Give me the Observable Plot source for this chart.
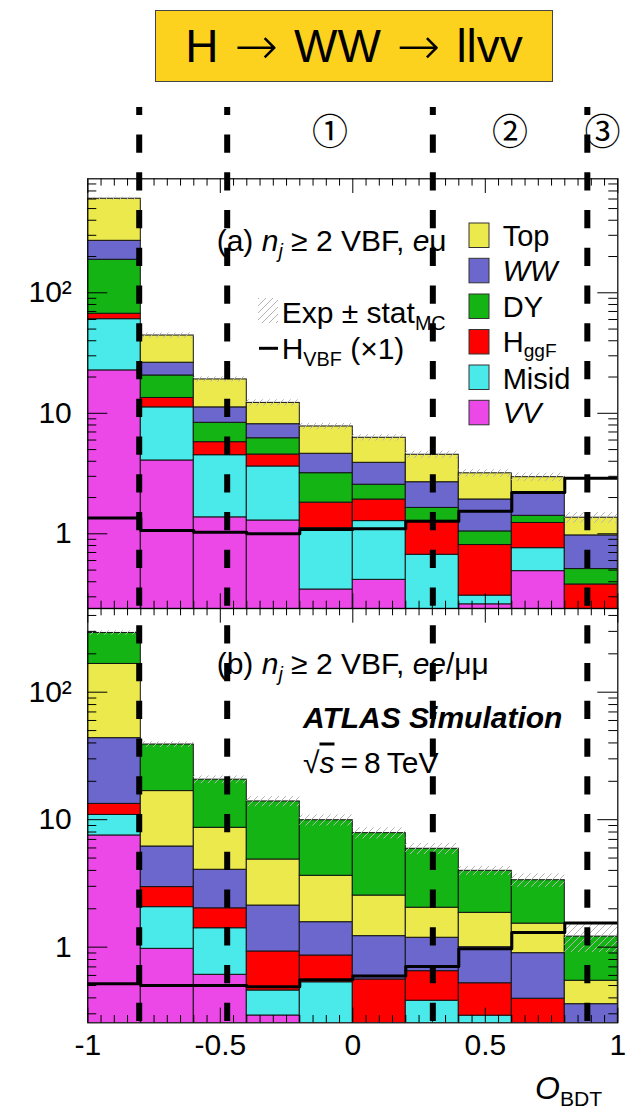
<!DOCTYPE html>
<html>
<head>
<meta charset="utf-8">
<script src="https://cdn.jsdelivr.net/npm/d3@7"></script>
<script src="https://cdn.jsdelivr.net/npm/@observablehq/plot@0.6"></script>
<style>
  body { margin: 0; background: #fff; }
  #wrap { position: relative; width: 637px; height: 1111px; overflow: hidden;
          font-family: "Liberation Sans", Arial, Helvetica, sans-serif; }
  #title { position: absolute; left: 155px; top: 10px; width: 398px; height: 72px;
           box-sizing: border-box; background: #FDD21F; border: 1px solid #444;
           display: flex; align-items: center; justify-content: center;
           font-size: 46px; color: #000; white-space: nowrap; }
  #title .arr { font-family: "DejaVu Sans", sans-serif; font-size: 52px; font-weight: 200;
                margin: 0 16px; }
</style>
</head>
<body>
<div id="wrap"><div id="title">H<span class="arr">→</span>WW<span class="arr">→</span>llvv</div></div>
<script>
const FONT = '"Liberation Sans", Arial, Helvetica, sans-serif';

// BDT output binning and region boundaries
const binEdges = [-1, -0.8, -0.6, -0.4, -0.2, 0, 0.2, 0.4, 0.6, 0.8, 1];
const cuts = [-0.806, -0.474, 0.302, 0.885];
const regionLabels = ["①", "②", "③"];
const xTickLabels = [-1, -0.5, 0, 0.5, 1];

// (a) e-mu channel, expected events per bin
const emuVV    = [22.7, 4.06, 1.37, 1.29, 0.345, 0.415, 0.15, 0.26, 0.49, 0.05];
const emuMisid = [37.7, 7.14, 3.12, 2.33, 0.77, 0.86, 0.52, 0.047, 0.27, 0.10];
const emuHggF  = [6.6, 2.2, 1.27, 0.93, 0.70, 0.65, 0.61, 0.50, 0.47, 0.23];
const emuDY    = [121, 7.2, 2.58, 1.66, 1.37, 0.63, 0.36, 0.24, 0.18, 0.13];
const emuWW    = [82, 5.7, 2.86, 1.91, 1.43, 1.33, 1.04, 0.88, 0.76, 0.46];
const emuTop   = [333, 17.9, 7.9, 4.08, 3.16, 2.38, 1.85, 1.25, 0.78, 0.39];
const emuHVBF  = [1.35, 1.065, 1.03, 1.0, 1.085, 1.1, 1.27, 1.54, 2.2, 2.89];
const emuStatMC = [0.03, 0.05, 0.05, 0.06, 0.06, 0.06, 0.07, 0.07, 0.08, 0.10];

// (b) ee/mumu channel, expected events per bin
const sfVV    = [7.52, 0.97, 0.607, 0.291, 0.20, 0.08, 0.10, 0.10, 0.05, 0.02];
const sfMisid = [3.38, 1.09, 0.80, 0.166, 0.33, 0.10, 0.28, 0.19, 0.10, 0.03];
const sfHggF  = [2.4, 0.90, 0.61, 0.468, 0.33, 0.378, 0.268, 0.231, 0.244, 0.10];
const sfWW    = [30.3, 3.2, 2.03, 1.195, 0.71, 0.662, 0.537, 0.478, 0.503, 0.207];
const sfTop   = [123, 10.6, 4.59, 2.75, 2.06, 1.32, 0.855, 0.86, 0.633, 0.188];
const sfDY    = [125, 22.1, 11.96, 9.03, 6.27, 5.30, 3.87, 2.11, 1.82, 0.665];
const sfHVBF  = [0.516, 0.50, 0.50, 0.49, 0.555, 0.593, 0.706, 0.97, 1.30, 1.55];
const sfStatMC = [0.04, 0.05, 0.07, 0.09, 0.10, 0.10, 0.10, 0.08, 0.12, 0.25];

const processColor = {
  Top: "#EBE94C", WW: "#6B67CD", DY: "#15B415",
  HggF: "#FF0000", Misid: "#4AEAEA", VV: "#EC48E8"
};

// Stacked histogram rectangles, bottom layer first
function stackTable(layers) {
  const rows = [];
  for (let i = 0; i < binEdges.length - 1; i++) {
    let lo = 1e-3, cum = 0;
    for (const {key, values} of layers) {
      cum += values[i];
      rows.push({key, x1: binEdges[i], x2: binEdges[i + 1], y1: lo, y2: cum, fill: processColor[key]});
      lo = cum;
    }
  }
  return rows;
}

function logTicks(lo, hi) {
  const major = [], minor = [];
  for (let e = -2; e <= 4; e++)
    for (let m = 1; m <= 9; m++) {
      const v = m * Math.pow(10, e);
      if (v >= lo && v <= hi) (m === 1 ? major : minor).push(v);
    }
  return {major, minor};
}

const xMinor = d3.range(41).filter(k => k % 10 !== 0).map(k => -1 + k * 0.05);

// Mixed-style text line: parts are strings or [string, {i, sub, sup, o}]
function richText(g, x, yMid, parts, {size = 30, weight = null, italic = false, subDrop = 0.24} = {}) {
  const t = g.append("text").attr("x", x).attr("y", yMid + 0.36 * size)
    .attr("text-anchor", "start")
    .attr("font-size", size).attr("fill", "black").attr("font-family", FONT);
  if (weight) t.attr("font-weight", weight);
  if (italic) t.attr("font-style", "italic");
  let shift = 0;
  for (const p of parts) {
    const [str, o = {}] = typeof p === "string" ? [p] : p;
    const target = o.sub ? size * subDrop : o.sup ? -size * 0.35 : 0;
    const ts = t.append("tspan").text(str).attr("dy", target - shift);
    shift = target;
    if (o.sub || o.sup) ts.attr("font-size", size * 0.66);
    if (o.i) ts.attr("font-style", "italic");
    if (o.o) ts.style("text-decoration", "overline");
  }
  return t;
}

function panel({top, height, marginTop, marginBottom, yDomain, layers, hvbf, statMC,
                hatchId, dashOffset, headerExtent, withXLabels, withRegions}) {
  const W = 637, mL = 87.3, mR = 19.7;
  const fw = W - mL - mR, fh = height - marginTop - marginBottom;
  const rows = stackTable(layers);
  const nb = binEdges.length - 1;
  const totals = d3.range(nb).map(i => d3.sum(layers, l => l.values[i]));
  const band = totals.map((t, i) => ({x1: binEdges[i], x2: binEdges[i + 1],
                                      y1: t * (1 - statMC[i]), y2: t * (1 + statMC[i])}));
  const hv = binEdges.map((x, i) => ({x, y: hvbf[Math.min(i, nb - 1)]}));
  const yt = logTicks(yDomain[0], yDomain[1]);
  // region labels centred between consecutive boundaries (last one up to x = 1)
  const bounds = [...cuts.slice(1), 1];
  const regions = regionLabels.map((label, i) => ({label, mid: (bounds[i] + bounds[i + 1]) / 2}));

  const marks = [
    Plot.rect(rows, {x1: "x1", x2: "x2", y1: "y1", y2: "y2", fill: "fill",
                     stroke: "#141414", strokeWidth: 1, clip: true}),
    Plot.rect(band, {x1: "x1", x2: "x2", y1: "y1", y2: "y2", fill: `url(#${hatchId})`, clip: true}),
    Plot.line(hv, {x: "x", y: "y", curve: "step-after", stroke: "black", strokeWidth: 3, clip: true}),
    Plot.ruleX(xMinor, {insetTop: fh - 7.3}),
    Plot.ruleX(xMinor, {insetBottom: fh - 7.3}),
    Plot.ruleX(xTickLabels, {insetTop: fh - 14.7}),
    Plot.ruleX(xTickLabels, {insetBottom: fh - 14.7}),
    Plot.ruleY(yt.minor, {insetRight: fw - 9}),
    Plot.ruleY(yt.minor, {insetLeft: fw - 9}),
    Plot.ruleY(yt.major, {insetRight: fw - 20}),
    Plot.ruleY(yt.major, {insetLeft: fw - 20}),
    Plot.frame({stroke: "black", strokeWidth: 1.2}),
    Plot.axisY({ticks: yt.major, tickFormat: d => (d === 100 ? "10²" : String(d)),
                tickSize: 0, tickPadding: 16, fontSize: 30, label: null})
  ];
  if (withXLabels)
    marks.push(Plot.axisX({ticks: xTickLabels, tickFormat: d => String(d), tickSize: 0,
                           tickPadding: 11, fontSize: 30, label: null}));
  if (withRegions)
    marks.push(Plot.text(regions, {x: "mid", text: "label", frameAnchor: "top",
                                   dy: -59, fontSize: 36, fontFamily: "Noto Sans CJK JP"}));
  // analysis region boundaries, drawn over everything
  marks.push(Plot.ruleX(cuts, {stroke: "black", strokeWidth: 6, strokeDasharray: "18.3 19.45",
                               strokeDashoffset: dashOffset, insetTop: -headerExtent}));

  const svg = Plot.plot({
    width: W, height, marginLeft: mL, marginRight: mR, marginTop, marginBottom,
    x: withXLabels ? {domain: [-1, 1]} : {domain: [-1, 1], axis: null},
    y: {type: "log", domain: yDomain, axis: null},
    color: {type: "identity"},
    style: {fontFamily: FONT, fontSize: "30px", overflow: "visible", background: "transparent"},
    marks
  });
  svg.style.position = "absolute";
  svg.style.left = "0px";
  svg.style.top = top + "px";
  svg.style.maxWidth = "none";

  const s = d3.select(svg);
  const defs = s.insert("defs", ":first-child");
  const pat = defs.append("pattern").attr("id", hatchId).attr("patternUnits", "userSpaceOnUse")
    .attr("width", 7).attr("height", 7);
  pat.append("path").attr("d", "M-1,8 L8,-1 M-1,1 L1,-1 M6,8 L8,6")
    .attr("stroke", "#b4b4b4").attr("stroke-width", 1);

  // annotation layer sits under the dashed boundaries
  const g = d3.create("svg:g").attr("class", "annotations");
  svg.insertBefore(g.node(), svg.lastChild);
  document.getElementById("wrap").appendChild(svg);
  return {svg, g, top};
}

// ---- (a) e-mu panel ----
const A = panel({
  top: 95, height: 515, marginTop: 83.3, marginBottom: 2,
  yDomain: [0.240, 883],
  layers: [
    {key: "VV", values: emuVV}, {key: "Misid", values: emuMisid}, {key: "HggF", values: emuHggF},
    {key: "DY", values: emuDY}, {key: "WW", values: emuWW}, {key: "Top", values: emuTop}
  ],
  hvbf: emuHVBF, statMC: emuStatMC, hatchId: "hatchA",
  dashOffset: 10.3, headerExtent: 71.3, withXLabels: false, withRegions: true
});
{
  const g = A.g, o = A.top;
  richText(g, 216.7, 240 - o, ["(a) ", ["n", {i: true}], ["j", {i: true, sub: true}],
                               " ≥ 2 VBF, ", ["e", {i: true}], "μ"]);
  const legend = [
    ["Top", [["Top"]]], ["WW", [["WW", {i: true}]]], ["DY", [["DY"]]],
    ["HggF", [["H"], ["ggF", {sub: true}]]], ["Misid", [["Misid"]]], ["VV", [["VV", {i: true}]]]
  ];
  const rowMid = [235.2, 270.5, 306.2, 341.7, 377.2, 412.5];
  legend.forEach(([key, parts], k) => {
    g.append("rect").attr("x", 469).attr("y", rowMid[k] - o - 12.2).attr("width", 20).attr("height", 24.5)
      .attr("fill", processColor[key]).attr("stroke", "#333").attr("stroke-width", 1);
    richText(g, 502.7, rowMid[k] - o + (key === "Misid" ? 1 : 0), parts, {size: 29, subDrop: 0.18});
  });
  g.append("rect").attr("x", 258).attr("y", 298 - o).attr("width", 20).attr("height", 25)
    .attr("fill", "url(#hatchA)");
  richText(g, 281.7, 311.7 - o, ["Exp ± stat", ["MC", {sub: true}]]);
  g.append("line").attr("x1", 259).attr("x2", 278).attr("y1", 348.3 - o).attr("y2", 348.3 - o)
    .attr("stroke", "black").attr("stroke-width", 3);
  richText(g, 281.7, 348 - o, ["H", ["VBF", {sub: true}], " (×1)"]);
}

// ---- (b) ee/mumu panel ----
const B = panel({
  top: 606, height: 505, marginTop: 2, marginBottom: 88.7,
  yDomain: [0.255, 453.5],
  layers: [
    {key: "VV", values: sfVV}, {key: "Misid", values: sfMisid}, {key: "HggF", values: sfHggF},
    {key: "WW", values: sfWW}, {key: "Top", values: sfTop}, {key: "DY", values: sfDY}
  ],
  hvbf: sfHVBF, statMC: sfStatMC, hatchId: "hatchB",
  dashOffset: 20.55, headerExtent: 0, withXLabels: true, withRegions: false
});
{
  const g = B.g, o = B.top;
  richText(g, 216.7, 663.3 - o, ["(b) ", ["n", {i: true}], ["j", {i: true, sub: true}],
                                 " ≥ 2 VBF, ", ["ee", {i: true}], "/μμ"]);
  richText(g, 303, 716.7 - o, ["ATLAS Simulation"], {size: 30, weight: "bold", italic: true});
  richText(g, 303, 761.7 - o, ["√", ["s", {i: true, o: true}], "\u2009=\u20098\u2009TeV"]);
  richText(g, 535, 1087 - o, [["O", {i: true}], ["BDT", {sub: true}]], {size: 32});
}
</script>
</body>
</html>
